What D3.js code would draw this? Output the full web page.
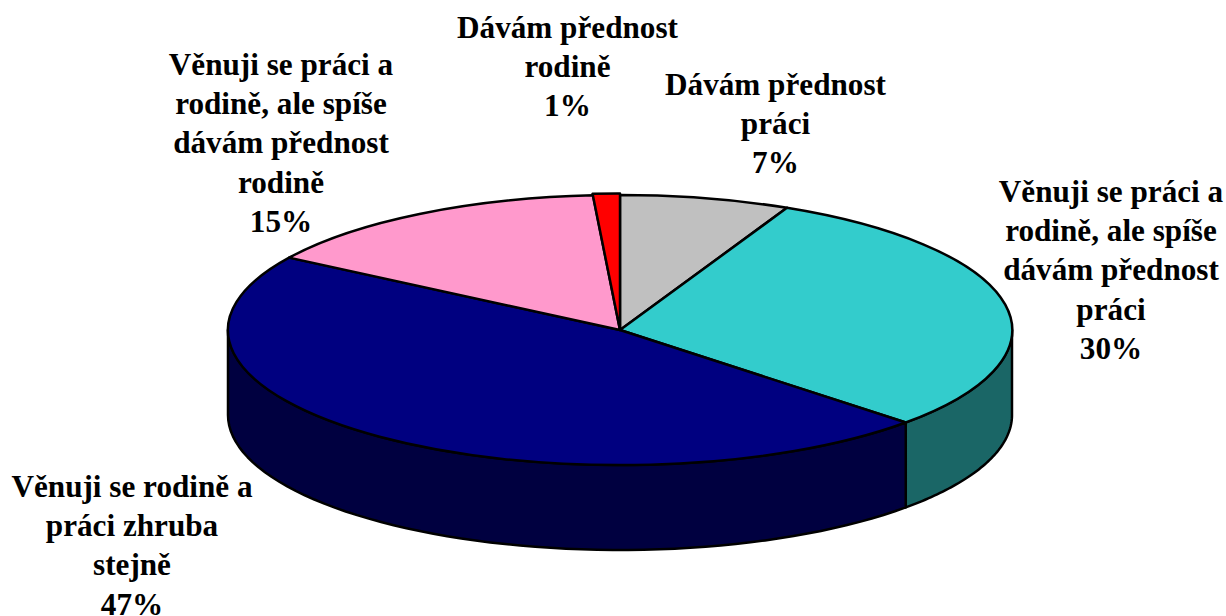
<!DOCTYPE html>
<html>
<head>
<meta charset="utf-8">
<script src="https://cdn.jsdelivr.net/npm/d3@7"></script>
<style>
  html, body { margin: 0; padding: 0; background: #fff; }
  svg { display: block; }
  .slice, .wall { stroke: #000; stroke-width: 2.5px; stroke-linejoin: round; vector-effect: non-scaling-stroke; }
  .label { font-family: "Liberation Serif", serif; font-weight: bold; font-size: 31.2px; fill: #000; text-anchor: middle; }
</style>
</head>
<body>
<div id="chart"></div>
<script>
//chart data, clockwise from the top of the pie
var categories = [
  ["Dávám přednost", "práci"],
  ["Věnuji se práci a", "rodině, ale spíše", "dávám přednost", "práci"],
  ["Věnuji se rodině a", "práci zhruba", "stejně"],
  ["Věnuji se práci a", "rodině, ale spíše", "dávám přednost", "rodině"],
  ["Dávám přednost", "rodině"]
];
//the labels show them rounded
var values = [7, 30, 47, 14.9, 1.1];

//slice colours, top face and darker side wall
var topColors = ["#C0C0C0", "#33CCCC", "#000080", "#FF99CC", "#FF0000"];
var wallColors = ["#606060", "#1A6666", "#000040", "#804C66", "#800000"];

//label anchor: centre x and first baseline
var labelX = [775.5, 1111, 132, 281, 567.5];
var labelY = [95, 202, 497, 75, 38];
var lineHeight = 39.2;

//set size of page and pie
var width = 1226, height = 616;
var cx = 620, cy = 330, rx = 392, ry = 135, depth = 85;

var svg = d3.select("#chart").append("svg")
    .attr("width", width)
    .attr("height", height)
    .attr("viewBox", `0 0 ${width} ${height}`);

//angles of the slices
var pie = d3.pie().sort(null).value(function(d) { return d; });
var arcs = pie(values);

//unit circle to screen
var x = d3.scaleLinear().domain([-1, 1]).range([cx - rx, cx + rx]);
var y = d3.scaleLinear().domain([-1, 1]).range([cy - ry, cy + ry]);

//side wall is only visible on the front half of the pie
var wallLine = d3.line()
    .x(function(d) { return x(d[0]); })
    .y(function(d) { return y(d[1]) + d[2]; });

function wallPath(d) {
  var a0 = Math.max(d.startAngle, Math.PI / 2);
  var a1 = Math.min(d.endAngle, Math.PI * 1.5);
  if (a1 <= a0) return null;
  var angles = d3.range(0, 61).map(function(i) { return a0 + (a1 - a0) * i / 60; });
  var top = angles.map(function(a) { return [Math.sin(a), -Math.cos(a), 0]; });
  var bottom = angles.slice().reverse().map(function(a) { return [Math.sin(a), -Math.cos(a), depth]; });
  return wallLine(top.concat(bottom)) + "Z";
}

svg.append("g").selectAll("path")
    .data(arcs.filter(function(d) { return wallPath(d); }))
  .join("path")
    .attr("class", "wall")
    .attr("fill", function(d) { return wallColors[d.index]; })
    .attr("d", wallPath);

//top face, a unit pie squashed to an ellipse; the smallest slice sticks out a touch
var arc = d3.arc()
    .innerRadius(0)
    .outerRadius(function(d) { return d.index === values.length - 1 ? 1.012 : 1; });

svg.append("g")
    .attr("transform", `translate(${cx},${cy}) scale(${rx},${ry})`)
  .selectAll("path")
    .data(arcs)
  .join("path")
    .attr("class", "slice")
    .attr("fill", function(d) { return topColors[d.index]; })
    .attr("d", arc);

//labels
var labels = svg.append("g").selectAll("text")
    .data(categories)
  .join("text")
    .attr("class", "label")
    .attr("y", function(d, i) { return labelY[i]; });

labels.selectAll("tspan")
    .data(function(d, i) { return d.concat(Math.round(values[i]) + "%").map(function(t) { return {text: t, x: labelX[i]}; }); })
  .join("tspan")
    .attr("x", function(d) { return d.x; })
    .attr("dy", function(d, i) { return i ? lineHeight : 0; })
    .text(function(d) { return d.text; });
</script>
</body>
</html>
